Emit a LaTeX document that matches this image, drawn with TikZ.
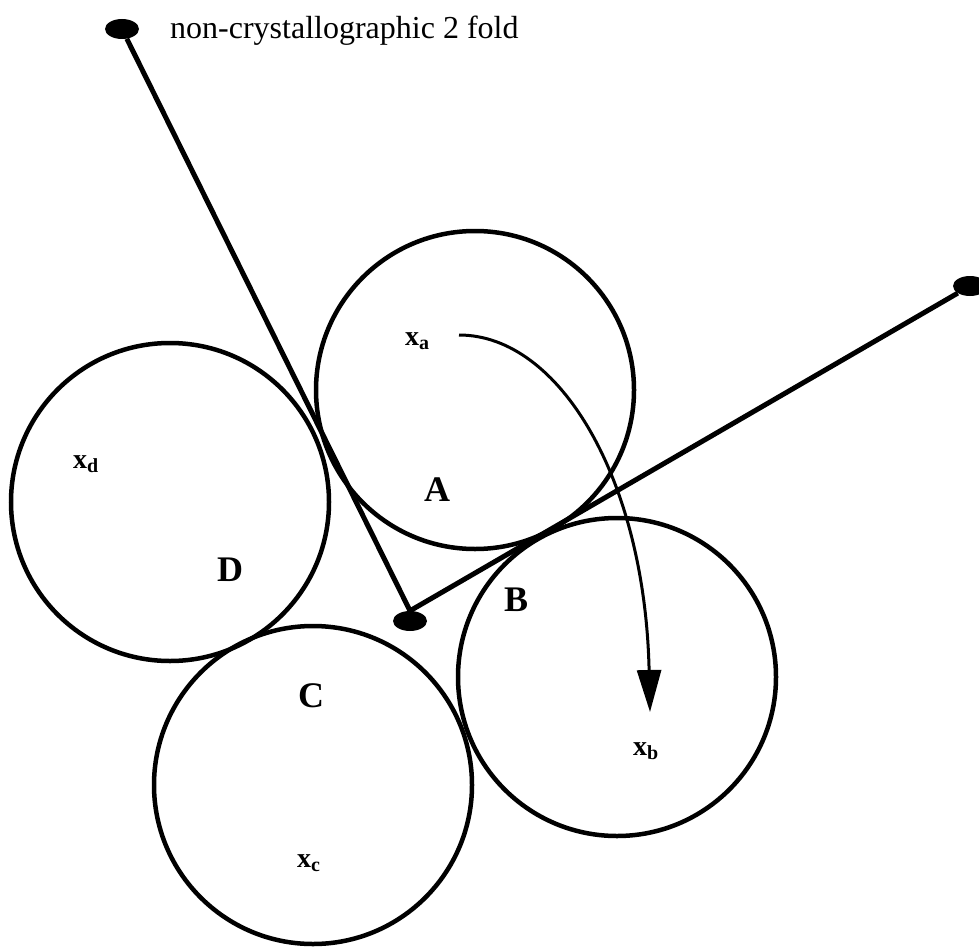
\documentclass[tikz,border=0pt]{standalone}
\usepackage{fontspec}
\setmainfont{Liberation Serif}
\usetikzlibrary{positioning, arrows.meta, shapes.geometric}

\tikzset{
  subunit/.style={circle, draw=black, line width=4.5pt, minimum size=318pt, inner sep=0pt},
  twofold/.style={ellipse, fill=black, minimum width=34pt, minimum height=20pt, inner sep=0pt},
  axisline/.style={line width=5pt},
  unitlabel/.style={font=\fontsize{36}{36}\selectfont\bfseries, inner sep=0pt},
  poslabel/.style={font=\fontsize{28}{28}\selectfont\bfseries, inner sep=0pt, anchor=base west},
}
\newcommand{\posx}[1]{x\raisebox{-0.35ex}{\fontsize{20}{20}\selectfont #1}}

\begin{document}
\begin{tikzpicture}[x=1pt,y=-1pt]
\useasboundingbox (0,0) rectangle (979,947);

% Subunits
\node[subunit] (A) at (475,390) {};
\node[subunit] (B) at (617,677) {};
\node[subunit] (C) at (313,785) {};
\node[subunit] (D) at (170,502) {};

% Two-fold axes
\node[twofold] (ncs) at (122,29) {};
\node[twofold] (ax0) at (410,621) {};
\node[twofold] (ax1) at (970,286) {};
\draw[axisline] (ncs) -- (ax0.north);
\draw[axisline] (ax0.north) -- (ax1);
\node[anchor=base west, inner sep=0pt, font=\fontsize{32}{32}\selectfont]
    (ncslabel) at (170,39) {non-crystallographic 2 fold};

% Subunit labels
\node[unitlabel] (labA) at (437,490) {A};
\node[unitlabel] (labB) at (516,600) {B};
\node[unitlabel] (labC) at (311,696) {C};
\node[unitlabel] (labD) at (230,570) {D};

% Positions
\node[poslabel] (xa) at (405,345) {\posx{a}};
\node[poslabel] (xb) at (633,755) {\posx{b}};
\node[poslabel] (xc) at (297,867) {\posx{c}};
\node[poslabel] (xd) at (73,468) {\posx{d}};

% Operation x_a -> x_b
\coordinate (opstart) at (459,335);
\coordinate (opend) at (650,712);
\draw[line width=3pt, -{Triangle[length=42pt,width=24pt]}]
    (opstart) .. controls (560,335) and (645,480) .. (opend);
\end{tikzpicture}
\end{document}
